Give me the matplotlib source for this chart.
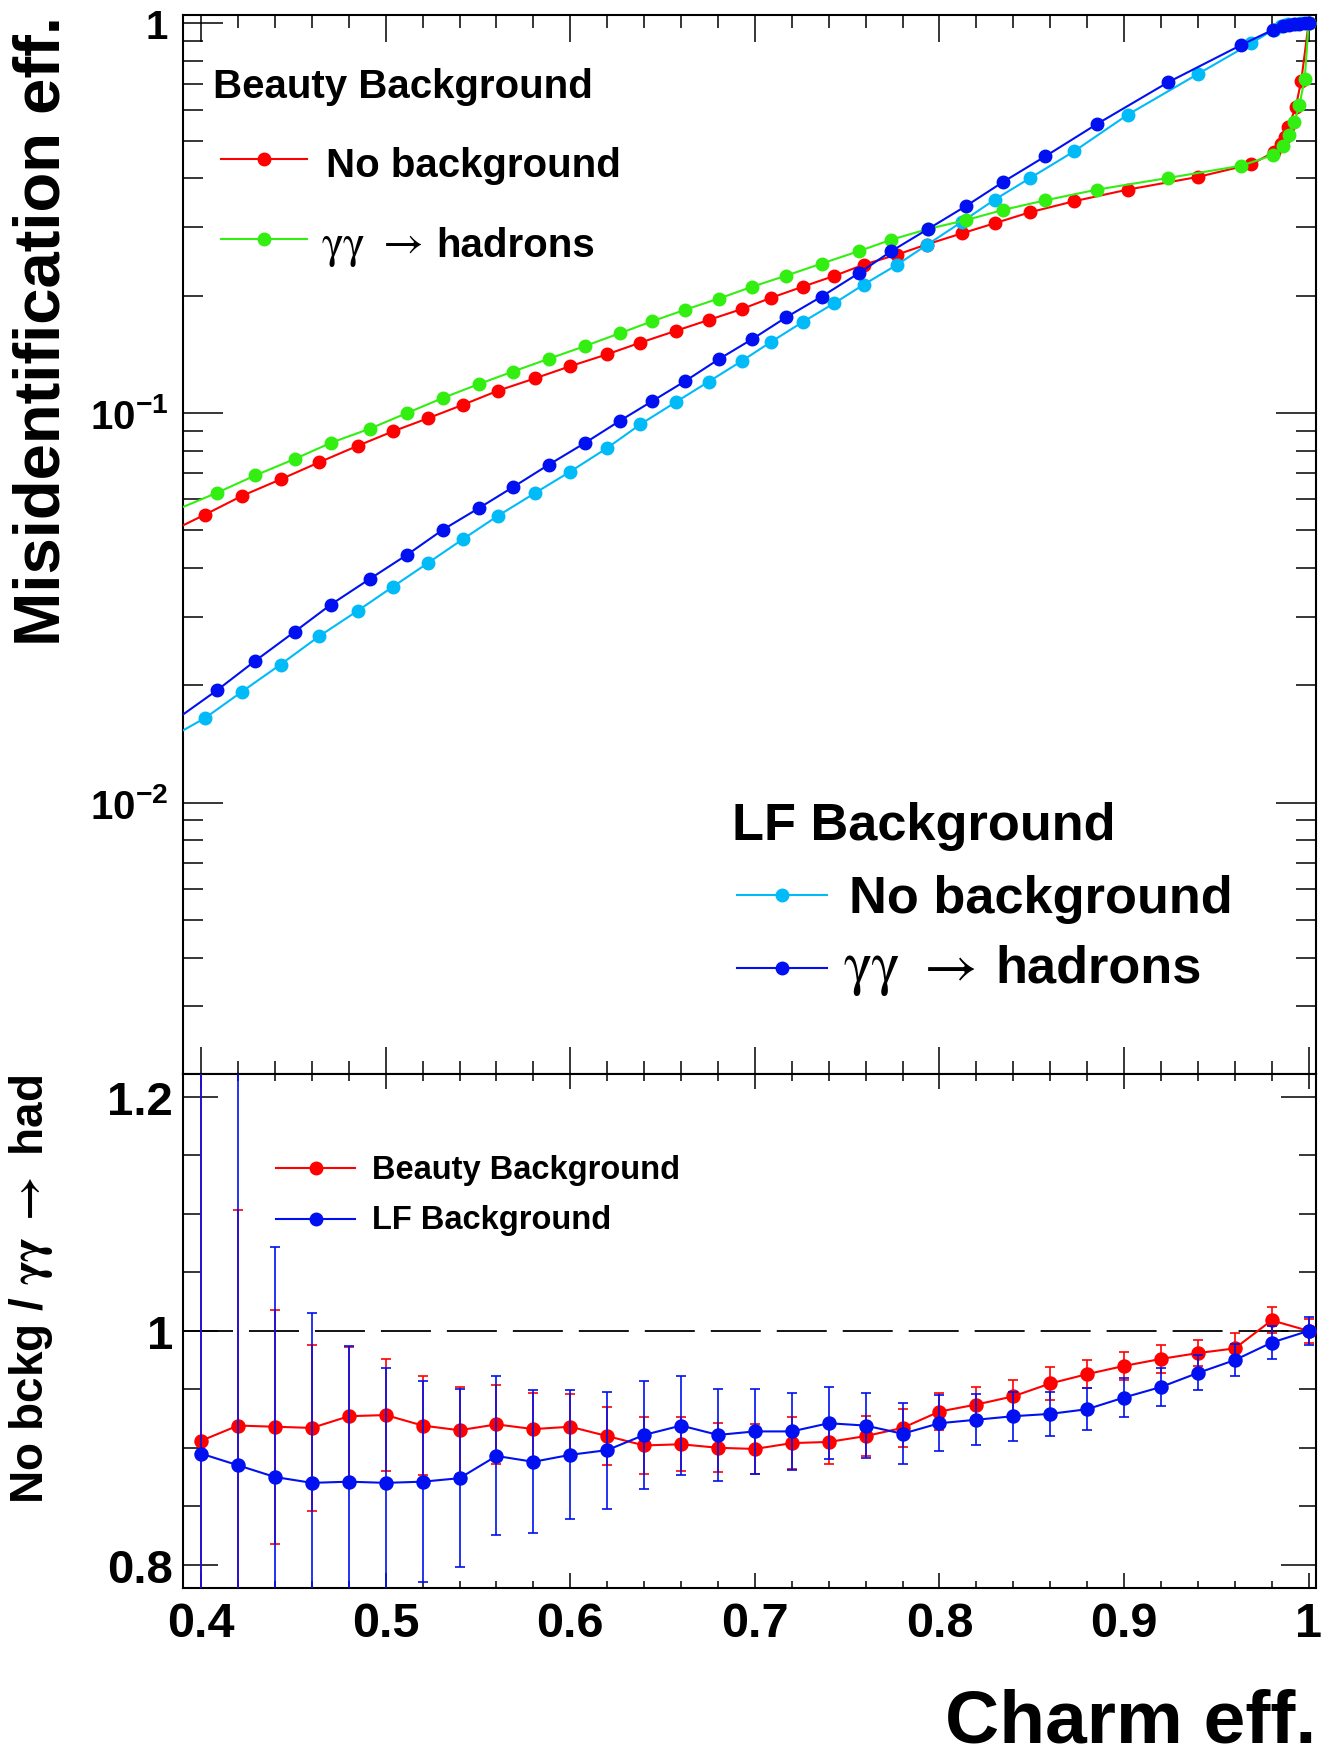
import numpy as np
import matplotlib
matplotlib.use("Agg")
import matplotlib.pyplot as plt
from matplotlib.lines import Line2D
from matplotlib.textpath import TextPath
from matplotlib.font_manager import FontProperties
from matplotlib.ticker import FixedLocator, FixedFormatter, MultipleLocator, LogLocator, NullFormatter

plt.rcParams['font.family'] = ['Liberation Sans', 'DejaVu Sans']
plt.rcParams['font.weight'] = 'bold'
plt.rcParams['mathtext.fontset'] = 'custom'
plt.rcParams['mathtext.rm'] = 'STIXGeneral'
plt.rcParams['mathtext.it'] = 'STIXGeneral:italic'
plt.rcParams['mathtext.bf'] = 'Liberation Sans:bold'
plt.rcParams['mathtext.sf'] = 'Liberation Sans'
plt.rcParams['mathtext.tt'] = 'Liberation Mono'
plt.rcParams['mathtext.cal'] = 'STIXGeneral:italic'
plt.rcParams['lines.scale_dashes'] = False

# ---------------- data: top panel ----------------
# "No background" working points (shared by beauty and LF curves)
x_nobkg = [0.402, 0.422, 0.443, 0.464, 0.485, 0.504, 0.523, 0.542, 0.561, 0.581,
           0.600, 0.620, 0.638, 0.657, 0.675, 0.693, 0.709, 0.726, 0.743, 0.759,
           0.777, 0.793, 0.812, 0.830, 0.849, 0.873, 0.902, 0.940, 0.969, 0.981,
           0.985, 0.987, 0.989, 0.993, 0.996, 1.000]
beauty_nobkg = [0.0548, 0.0612, 0.0675, 0.0747, 0.0824, 0.0897, 0.0969, 0.1050, 0.1141, 0.1227,
                0.1318, 0.1414, 0.1515, 0.1623, 0.1732, 0.1848, 0.1976, 0.2109, 0.2247, 0.2402,
                0.2548, 0.2705, 0.2888, 0.3068, 0.3273, 0.3494, 0.3742, 0.4033, 0.4347, 0.4666,
                0.490, 0.510, 0.541, 0.609, 0.712, 1.0]
lf_nobkg = [0.01646, 0.01924, 0.02260, 0.02673, 0.03110, 0.03583, 0.04122, 0.04749, 0.05452, 0.06232,
            0.0707, 0.0813, 0.0935, 0.1065, 0.1203, 0.1360, 0.1524, 0.1712, 0.1912, 0.2135,
            0.2400, 0.2695, 0.3090, 0.3528, 0.4004, 0.4694, 0.5826, 0.741, 0.889, 0.963,
            0.985, 0.990, 0.994, 0.997, 0.999, 1.0]
# "gamma gamma -> hadrons" working points (shared by beauty and LF curves)
x_gghad = [0.4087, 0.4293, 0.4508, 0.4703, 0.4914, 0.5117, 0.5311, 0.5507, 0.5689, 0.5882,
           0.6077, 0.6268, 0.6444, 0.6624, 0.6804, 0.6987, 0.7170, 0.7361, 0.7563, 0.7740,
           0.7939, 0.8142, 0.8345, 0.8574, 0.8854, 0.9239, 0.9636, 0.9808,
           0.9862, 0.9892, 0.9923, 0.9950, 0.9979, 1.000]
beauty_gghad = [0.0624, 0.0691, 0.0762, 0.0838, 0.0911, 0.1000, 0.1093, 0.1187, 0.1277, 0.1376,
                0.1483, 0.1601, 0.1719, 0.1841, 0.1965, 0.2109, 0.2251, 0.2416, 0.2601, 0.2784,
                0.2966, 0.3123, 0.3319, 0.3513, 0.3742, 0.4009, 0.431, 0.459,
                0.485, 0.518, 0.557, 0.617, 0.720, 1.0]
lf_gghad = [0.01943, 0.02310, 0.02747, 0.03222, 0.03750, 0.04328, 0.05019, 0.05705, 0.06447, 0.07357,
            0.0836, 0.0954, 0.1072, 0.1208, 0.1373, 0.1548, 0.1760, 0.1988, 0.2283, 0.2602,
            0.2966, 0.3392, 0.3916, 0.4557, 0.5516, 0.7058, 0.880, 0.963,
            0.986, 0.991, 0.995, 0.998, 0.999, 1.0]
# value where each curve enters the frame at its left edge
edge_beauty_nobkg = 0.0514
edge_beauty_gghad = 0.0573
edge_lf_nobkg = 0.0153
edge_lf_gghad = 0.0168

# ---------------- data: bottom panel (ratio) ----------------
x_ratio = [0.40, 0.42, 0.44, 0.46, 0.48, 0.50, 0.52, 0.54, 0.56, 0.58,
           0.60, 0.62, 0.64, 0.66, 0.68, 0.70, 0.72, 0.74, 0.76, 0.78,
           0.80, 0.82, 0.84, 0.86, 0.88, 0.90, 0.92, 0.94, 0.96, 0.98, 1.00]
ratio_beauty = [0.906, 0.919, 0.918, 0.917, 0.927, 0.928, 0.919, 0.915, 0.920, 0.916,
                0.918, 0.910, 0.902, 0.903, 0.900, 0.899, 0.904, 0.905, 0.910, 0.917,
                0.931, 0.937, 0.944, 0.955, 0.963, 0.970, 0.976, 0.981, 0.985, 1.009, 1.000]
err_beauty = [0.50, 0.184, 0.10, 0.071, 0.059, 0.048, 0.042, 0.037, 0.034, 0.031,
              0.028, 0.025, 0.024, 0.023, 0.021, 0.021, 0.022, 0.019, 0.017, 0.016,
              0.016, 0.015, 0.014, 0.014, 0.012, 0.012, 0.012, 0.011, 0.013, 0.011, 0.010]
ratio_lf = [0.895, 0.885, 0.875, 0.870, 0.871, 0.870, 0.871, 0.874, 0.893, 0.888,
            0.894, 0.898, 0.911, 0.919, 0.911, 0.914, 0.914, 0.921, 0.919, 0.912,
            0.921, 0.924, 0.927, 0.929, 0.933, 0.943, 0.952, 0.964, 0.975, 0.990, 1.000]
err_lf = [0.50, 0.40, 0.197, 0.145, 0.116, 0.098, 0.086, 0.076, 0.068, 0.061,
          0.055, 0.050, 0.046, 0.042, 0.039, 0.036, 0.033, 0.031, 0.028, 0.026,
          0.024, 0.022, 0.021, 0.019, 0.018, 0.017, 0.016, 0.015, 0.014, 0.014, 0.012]
ratio_reference = 1.0

# ticks / labels
top_ytick_vals = [0.01, 0.1, 1.0]
top_ytick_labels = [r'$\mathbf{10^{-2}}$', r'$\mathbf{10^{-1}}$', '1']
bot_ytick_vals = [0.8, 1.0, 1.2]
bot_ytick_labels = ['0.8', '1', '1.2']
xtick_vals = [0.4, 0.5, 0.6, 0.7, 0.8, 0.9, 1.0]
xtick_labels = ['0.4', '0.5', '0.6', '0.7', '0.8', '0.9', '1']

RED = '#ff0000'
GREEN = '#33ee11'
BLUE = '#0010f0'
CYAN = '#00bbf8'

W, H = 1332, 1758
XMIN, XMAX = 0.39, 1.004

fig = plt.figure(figsize=(W / 100, H / 100), dpi=100)


def fx(px):
    return px / W


def fy(py):
    return 1 - py / H


L, R = 182.7, 1316.0
T1, B1, B2 = 15.7, 1075.0, 1588.5
ax1 = fig.add_axes([fx(L), fy(B1), (R - L) / W, (B1 - T1) / H])
ax2 = fig.add_axes([fx(L), fy(B2), (R - L) / W, (B2 - B1) / H])

LW = 1.5
MS = 9.0


def curve(ax, x, y, edge, color, z):
    xs = [XMIN] + list(x)
    ys = [edge] + list(y)
    ax.plot(xs, ys, '-o', color=color, lw=LW, ms=MS, mec=color,
            markevery=list(range(1, len(xs))), zorder=z)


curve(ax1, x_nobkg, beauty_nobkg, edge_beauty_nobkg, RED, 3)
curve(ax1, x_nobkg, lf_nobkg, edge_lf_nobkg, CYAN, 4)
curve(ax1, x_gghad, beauty_gghad, edge_beauty_gghad, GREEN, 5)
curve(ax1, x_gghad, lf_gghad, edge_lf_gghad, BLUE, 6)

ax1.set_yscale('log')
ax1.set_xlim(XMIN, XMAX)
ax1.set_ylim(0.00201, 1.052)
ax1.yaxis.set_major_locator(FixedLocator(top_ytick_vals))
ax1.yaxis.set_major_formatter(FixedFormatter(top_ytick_labels))
ax1.yaxis.set_minor_locator(LogLocator(base=10, subs=np.arange(2, 10)))
ax1.yaxis.set_minor_formatter(NullFormatter())
ax1.xaxis.set_major_locator(FixedLocator(xtick_vals))
ax1.xaxis.set_minor_locator(MultipleLocator(0.02))
ax1.tick_params(axis='both', which='both', direction='in', top=True, right=True,
                labelbottom=False, width=1.1, color='black')
ax1.tick_params(axis='x', which='major', length=19.5)
ax1.tick_params(axis='x', which='minor', length=9.7)
ax1.tick_params(axis='y', which='major', length=29, pad=10.5, labelsize=29)
ax1.tick_params(axis='y', which='minor', length=14.4)

# bottom panel
ax2.axhline(ratio_reference, color='black', lw=1.3, dashes=(36, 11.5), zorder=1)
ax2.errorbar(x_ratio, ratio_beauty, yerr=err_beauty, fmt='-o', color=RED, lw=LW,
             ms=9.4, mec=RED, elinewidth=1.2, capsize=3.6, capthick=1.2, zorder=3)
ax2.errorbar(x_ratio, ratio_lf, yerr=err_lf, fmt='-o', color=BLUE, lw=LW,
             ms=9.4, mec=BLUE, elinewidth=1.2, capsize=3.6, capthick=1.2, zorder=4)
ax2.set_xlim(XMIN, XMAX)
ax2.set_ylim(0.7805, 1.2197)
ax2.yaxis.set_major_locator(FixedLocator(bot_ytick_vals))
ax2.yaxis.set_major_formatter(FixedFormatter(bot_ytick_labels))
ax2.yaxis.set_minor_locator(MultipleLocator(0.05))
ax2.xaxis.set_major_locator(FixedLocator(xtick_vals))
ax2.xaxis.set_major_formatter(FixedFormatter(xtick_labels))
ax2.xaxis.set_minor_locator(MultipleLocator(0.02))
ax2.tick_params(axis='both', which='both', direction='in', top=True, right=True,
                width=1.1, color='black')
ax2.tick_params(axis='x', which='major', length=10.8, pad=9.7, labelsize=35)
ax2.tick_params(axis='x', which='minor', length=5)
ax2.tick_params(axis='y', which='major', length=25, pad=7, labelsize=34)
ax2.tick_params(axis='y', which='minor', length=12.5)

for ax in (ax1, ax2):
    for s in ax.spines.values():
        s.set_linewidth(1.5)

# axis titles
fig.text(fx(60), fy(T1), 'Misidentification eff.', rotation=90, rotation_mode='anchor',
         ha='right', va='baseline', fontsize=47, fontweight='bold')
fig.text(fx(43), fy(B1), r'No bckg / $\mathrm{\gamma\gamma}\;\mathrm{\rightarrow}$ had',
         rotation=90, rotation_mode='anchor', ha='right', va='baseline',
         fontsize=33, fontweight='bold')
fig.text(fx(1316), fy(1743), 'Charm eff.', ha='right', va='baseline', fontsize=54,
         fontweight='bold')


# legends (drawn in figure pixels)
def leg_line(x0, x1, y, color):
    fig.add_artist(Line2D([fx(x0), fx(x1)], [fy(y), fy(y)], transform=fig.transFigure,
                          color=color, lw=LW))
    fig.add_artist(Line2D([fx((x0 + x1) / 2)], [fy(y)], transform=fig.transFigure,
                          marker='o', ms=MS, color=color, mec=color, lw=0))


SERIF = ['STIXGeneral', 'Liberation Serif', 'DejaVu Serif']
ARROW_PROP = FontProperties(family='STIXGeneral', weight='normal')
_arrow_ext = TextPath((0, 0), '\u2192', size=1, prop=ARROW_PROP).get_extents()


def arrow_text(x0, x1, yc):
    """Place a thin arrow glyph so that it spans x0..x1 (px) centred on yc (px)."""
    em_px = (x1 - x0) / _arrow_ext.width
    xl = x0 - _arrow_ext.x0 * em_px
    base = yc + 0.5 * (_arrow_ext.y0 + _arrow_ext.y1) * em_px
    fig.text(fx(xl), fy(base), '\u2192', fontsize=em_px * 0.72, family=SERIF,
             fontweight='normal', ha='left', va='baseline')


def gg_label(xg, arrow_span, arrow_y, xh, base, size):
    fig.text(fx(xg), fy(base), '\u03b3\u03b3', fontsize=size * 1.15,
             family=SERIF, fontweight='normal', ha='left', va='baseline')
    arrow_text(arrow_span[0], arrow_span[1], arrow_y)
    fig.text(fx(xh), fy(base), 'hadrons', fontsize=size, fontweight='bold',
             ha='left', va='baseline')


legend_titles = ['Beauty Background', 'LF Background']
entry_nobkg = 'No background'

# Beauty legend (top left)
fig.text(fx(213), fy(98), legend_titles[0], fontsize=29, ha='left', va='baseline')
leg_line(221, 307, 160, RED)
fig.text(fx(326), fy(177), entry_nobkg, fontsize=29, ha='left', va='baseline')
leg_line(221, 307, 240, GREEN)
gg_label(322, (386, 421), 244.6, 436, 257, 29)

# LF legend (lower right of top panel)
fig.text(fx(732), fy(840), legend_titles[1], fontsize=37.7, ha='left', va='baseline')
leg_line(737, 827, 896, CYAN)
fig.text(fx(849), fy(913), entry_nobkg, fontsize=37.7, ha='left', va='baseline')
leg_line(737, 827, 969, BLUE)
gg_label(843, (928, 974), 969.7, 995, 983, 37.7)

# ratio legend
leg_line(276, 355, 1169, RED)
fig.text(fx(372), fy(1178.5), legend_titles[0], fontsize=23.5, ha='left', va='baseline')
leg_line(276, 355, 1220, BLUE)
fig.text(fx(372), fy(1229.5), legend_titles[1], fontsize=23.5, ha='left', va='baseline')

fig.savefig('out.png', dpi=100)
